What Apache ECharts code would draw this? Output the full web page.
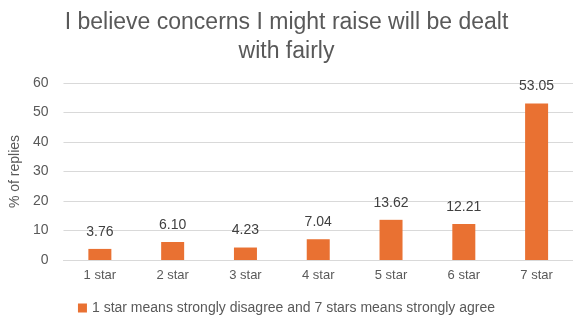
<!DOCTYPE html>
<html>
<head>
<meta charset="utf-8">
<script src="https://cdn.jsdelivr.net/npm/echarts@6/dist/echarts.min.js"></script>
<style>
  html, body { margin: 0; padding: 0; background: #fff; }
  #chart { width: 573px; height: 321px; }
</style>
</head>
<body>
<div id="chart"></div>
<script>
const categories = ['1 star', '2 star', '3 star', '4 star', '5 star', '6 star', '7 star'];
const values = [3.76, 6.10, 4.23, 7.04, 13.62, 12.21, 53.05];
const seriesName = '1 star means strongly disagree and 7 stars means strongly agree';
const titleText = 'I believe concerns I might raise will be dealt\nwith fairly';

const chart = echarts.init(document.getElementById('chart'));
const font = 'Liberation Sans, Arial, sans-serif';

chart.setOption({
  animation: false,
  textStyle: { fontFamily: font },
  title: {
    text: titleText, left: 'center', top: 3,
    textStyle: { color: '#595959', fontSize: 23, fontWeight: 'normal', lineHeight: 29, fontFamily: font },
  },
  legend: {
    bottom: 1, left: 'center', itemWidth: 9, itemHeight: 9, icon: 'rect', itemGap: 6,
    textStyle: { color: '#595959', fontSize: 14 },
  },
  grid: { left: 58, right: 0, top: 83, bottom: 61 },
  xAxis: {
    type: 'category', data: categories,
    axisLine: { lineStyle: { color: '#d9d9d9' } },
    axisTick: { show: false },
    axisLabel: { color: '#595959', fontSize: 13, margin: 9 },
  },
  yAxis: {
    type: 'value', min: 0, max: 60, interval: 10,
    name: '% of replies', nameLocation: 'middle', nameGap: 38,
    nameTextStyle: { color: '#595959', fontSize: 14 },
    axisLine: { show: false }, axisTick: { show: false },
    axisLabel: { color: '#595959', fontSize: 14, margin: 15 },
    splitLine: { lineStyle: { color: '#d9d9d9' } },
  },
  series: [{
    name: seriesName, type: 'bar', data: values, barWidth: 23,
    itemStyle: { color: '#E97132' },
    label: {
      show: true, position: 'top', distance: 10, color: '#404040', fontSize: 14,
      formatter: p => p.value.toFixed(2),
    },
  }],
});
</script>
</body>
</html>
